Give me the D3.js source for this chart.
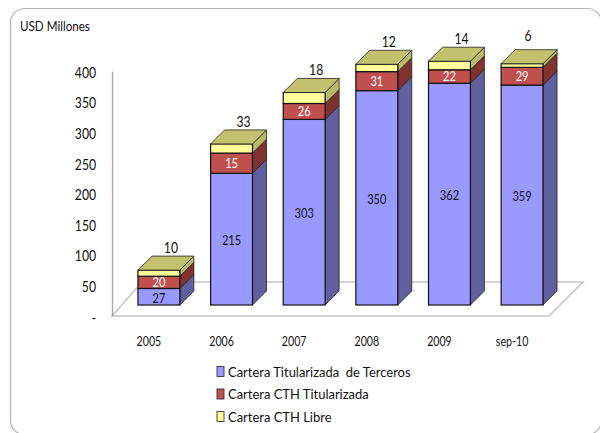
<!DOCTYPE html>
<html>
<head>
<meta charset="utf-8">
<script src="https://cdnjs.cloudflare.com/ajax/libs/d3/7.8.5/d3.min.js"></script>
<style>
  html, body { margin: 0; padding: 0; background: #fff; overflow: hidden; }
  svg { display: block; }
  text { font-family: Lato, sans-serif; font-size: 13px; fill: #111; }
</style>
</head>
<body>
<div id="chart"></div>
<script>
// data
var categories = ["2005", "2006", "2007", "2008", "2009", "sep-10"];
var terceros = [27, 215, 303, 350, 362, 359];
var titularizada = [20, 33, 26, 31, 22, 29];
var libre = [10, 15, 18, 12, 14, 6];
// in the picture the 2006 labels do not follow the bar heights (15 on the tall red box, 33 on top)
var titularizadaLabels = [20, 15, 26, 31, 22, 29];
var libreLabels = [10, 33, 18, 12, 14, 6];
var seriesNames = ["Cartera Titularizada  de Terceros", "Cartera CTH Titularizada", "Cartera CTH Libre"];
var yTicks = [0, 50, 100, 150, 200, 250, 300, 350, 400];

var w = 600, h = 433;
var depth = 14;
var lift = 11; // front of the bars stands above the axis zero

var fronts = ["#9999ff", "#c0504d", "#ffff99"];
var sides = ["#60609f", "#803230", "#b9b968"];
var topColor = "#c2c26e";

// the reference font is narrower than Lato, so squeeze the numbers a bit
function squeeze(sel, k) {
    sel.each(function() {
        d3.select(this)
          .attr("textLength", this.getComputedTextLength() * k)
          .attr("lengthAdjust", "spacingAndGlyphs");
    });
}

var svg = d3.select("#chart").append("svg").attr("width", w).attr("height", h);

// outer frame
svg.append("rect")
   .attr("x", 10.5).attr("y", 8.5)
   .attr("width", 591).attr("height", 426)
   .attr("rx", 14)
   .attr("fill", "none")
   .attr("stroke", "#b5b5b5")
   .attr("stroke-width", 1.2);

svg.append("text").attr("x", 20).attr("y", 31).style("font-size", "12.5px").text("USD Millones").call(squeeze, 0.93);

var y = d3.scaleLinear().domain([0, 400]).range([316, 71]);
var x = d3.scaleBand().domain(categories).range([122.6, 558.4]).paddingInner(0.423).paddingOuter(0.2115);

// floor
var floorPath = d3.path();
floorPath.moveTo(112, y(0));
floorPath.lineTo(112 + 30, y(0) - 34);
floorPath.lineTo(583, y(0) - 34);
floorPath.lineTo(549, y(0));
floorPath.closePath();
svg.append("path")
   .attr("d", floorPath.toString())
   .attr("fill", "#fff")
   .attr("stroke", "#c4c4c4")
   .attr("stroke-width", 1.6);

// y axis
var yAxis = d3.axisLeft(y)
    .tickValues(yTicks)
    .tickSize(0)
    .tickPadding(16)
    .tickFormat(function(d) { return d === 0 ? "-" : d; });
var gy = svg.append("g").attr("transform", "translate(112,0)").call(yAxis);
gy.select(".domain").attr("stroke", "#a6a6a6").attr("stroke-width", 1.4);
gy.selectAll("text")
  .attr("transform", "translate(0,1.5)")
  .style("font-size", "14.5px")
  .style("font-family", "Lato, sans-serif")
  .call(squeeze, 0.84);

// x axis labels
var xAxis = d3.axisBottom(x).tickSize(0).tickPadding(0);
var gx = svg.append("g").attr("transform", "translate(-10,337)").call(xAxis);
gx.select(".domain").remove();
gx.selectAll("text").style("font-size", "12.5px").style("font-family", "Lato, sans-serif").call(squeeze, 0.85);

// stacks
var rows = categories.map(function(c, i) {
    return { cat: c, a: terceros[i], b: titularizada[i], c: libre[i], labelB: titularizadaLabels[i], labelC: libreLabels[i] };
});
var stacked = d3.stack().keys(["a", "b", "c"])(rows);

stacked.forEach(function(layer, s) {
    var g = svg.append("g");

    // side face
    g.selectAll("path.side")
     .data(layer)
     .enter()
     .append("path")
     .attr("d", function(d) {
        var x1 = x(d.data.cat) + x.bandwidth();
        var y0 = y(d[0]) - lift, y1 = y(d[1]) - lift;
        var p = d3.path();
        p.moveTo(x1, y0);
        p.lineTo(x1 + depth, y0 - depth);
        p.lineTo(x1 + depth, y1 - depth);
        p.lineTo(x1, y1);
        p.closePath();
        return p.toString();
     })
     .attr("fill", sides[s])
     .attr("stroke", "#222")
     .attr("stroke-width", 0.8);

    // front face
    g.selectAll("rect")
     .data(layer)
     .enter()
     .append("rect")
     .attr("x", function(d) { return x(d.data.cat); })
     .attr("y", function(d) { return y(d[1]) - lift; })
     .attr("width", x.bandwidth())
     .attr("height", function(d) { return y(d[0]) - y(d[1]); })
     .attr("fill", fronts[s])
     .attr("stroke", "#111")
     .attr("stroke-width", 1.2);
});

// top faces
svg.append("g").selectAll("path")
   .data(stacked[2])
   .enter()
   .append("path")
   .attr("d", function(d) {
      var x0 = x(d.data.cat), x1 = x0 + x.bandwidth(), yt = y(d[1]) - lift;
      var p = d3.path();
      p.moveTo(x0, yt);
      p.lineTo(x0 + depth, yt - depth);
      p.lineTo(x1 + depth, yt - depth);
      p.lineTo(x1, yt);
      p.closePath();
      return p.toString();
   })
   .attr("fill", topColor)
   .attr("stroke", "#222")
   .attr("stroke-width", 0.8);

// value labels inside the two lower layers
[0, 1].forEach(function(s) {
    svg.append("g").selectAll("text")
       .data(stacked[s])
       .enter()
       .append("text")
       .attr("text-anchor", "middle")
       .attr("x", function(d) { return x(d.data.cat) + x.bandwidth() / 2; })
       .attr("y", function(d) { return y((d[0] + d[1]) / 2) - lift + (s === 1 ? 4.5 : 6); })
       .style("fill", s === 1 ? "#fff" : "#111")
       .text(function(d) { return s === 1 ? d.data.labelB : d.data.a; })
       .call(squeeze, 0.85);
});

// labels of the top layer sit above the box
svg.append("g").selectAll("text")
   .data(stacked[2])
   .enter()
   .append("text")
   .attr("text-anchor", "middle")
   .attr("x", function(d) { return x(d.data.cat) + x.bandwidth() / 2 + (d.data.cat === "sep-10" ? 6 : 12); })
   .attr("y", function(d) { return y(d[1]) - lift - depth - (d.data.cat === "sep-10" ? 9 : 3); })
   .style("font-size", "14.5px")
   .text(function(d) { return d.data.labelC; })
   .call(squeeze, 0.84);

// legend
var legendY = d3.scalePoint().domain(seriesNames).range([372, 417]);
var legend = svg.append("g").selectAll("g")
    .data(seriesNames)
    .enter()
    .append("g")
    .attr("transform", function(d) { return "translate(217," + legendY(d) + ")"; });
legend.append("rect")
    .attr("x", 0).attr("y", -5.5)
    .attr("width", 7).attr("height", 10)
    .attr("fill", function(d, i) { return fronts[i]; })
    .attr("stroke", "#222")
    .attr("stroke-width", 0.8);
legend.append("text")
    .attr("x", 11).attr("y", 4.5)
    .style("white-space", "pre")
    .style("font-size", "13.5px")
    .text(function(d) { return d; })
    .call(squeeze, 0.96);
</script>
</body>
</html>
